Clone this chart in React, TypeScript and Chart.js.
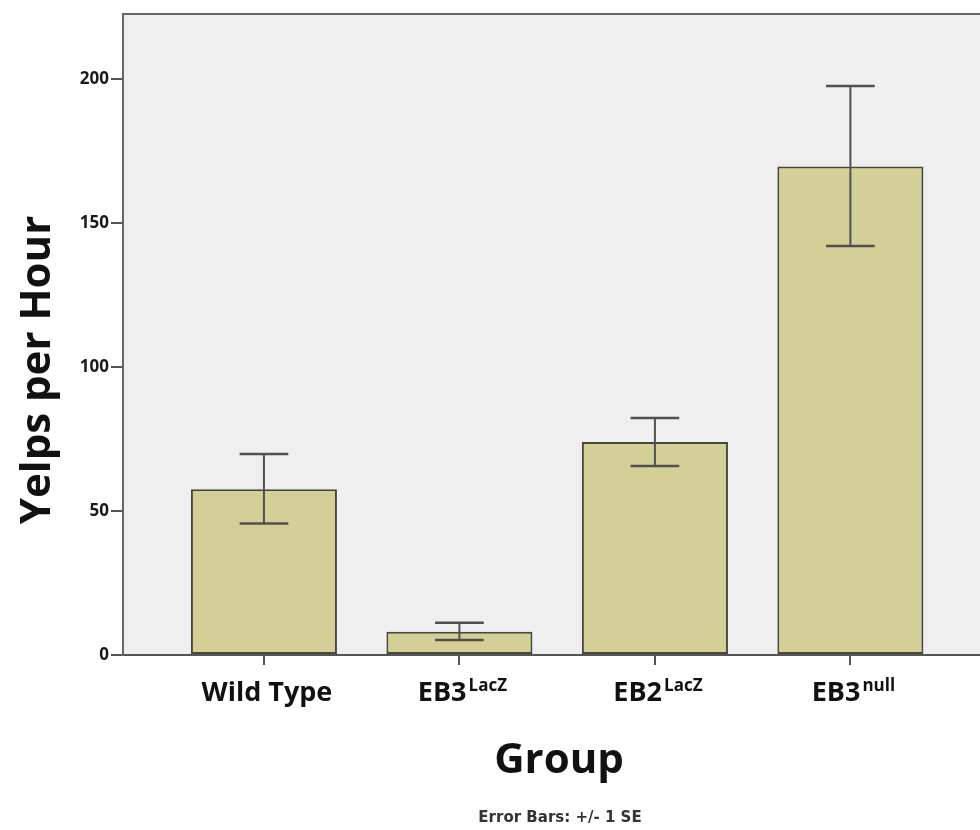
import React, { useEffect, useRef } from 'react';
import { Chart, registerables } from 'chart.js';

Chart.register(...registerables);

// ---- data ----
const groupNames = ['Wild Type', 'EB3', 'EB2', 'EB3'];
const groupSuperscripts = ['', 'LacZ', 'LacZ', 'null'];
const groupPositions = [1, 2, 3, 4];
const meanYelps = [57.6, 8.1, 74.0, 169.6];
const seLower = [45.7, 5.2, 65.6, 142.0];
const seUpper = [69.8, 11.2, 82.3, 197.6];
const yTicks = [0, 50, 100, 150, 200];
const yAxisTitle = 'Yelps per Hour';
const xAxisTitle = 'Group';
const footnote = 'Error Bars: +/- 1 SE';

const FONT = "'Open Sans', 'DejaVu Sans', sans-serif";

const decorPlugin = {
  id: 'decor',
  beforeDraw(chart: any) {
    const { ctx, chartArea } = chart;
    ctx.save();
    ctx.fillStyle = '#efefef';
    ctx.fillRect(chartArea.left, chartArea.top, chartArea.right - chartArea.left, chartArea.bottom - chartArea.top);
    ctx.restore();
  },
  afterDatasetsDraw(chart: any) {
    const { ctx } = chart;
    const meta = chart.getDatasetMeta(0);
    const yScale = chart.scales.y;
    ctx.save();
    ctx.strokeStyle = '#505050';
    ctx.lineCap = 'butt';
    meta.data.forEach((bar: any, i: number) => {
      const x = bar.x;
      const half = bar.width / 6;
      const yl = yScale.getPixelForValue(seLower[i]);
      const yu = yScale.getPixelForValue(seUpper[i]);
      ctx.lineWidth = 2;
      ctx.beginPath();
      ctx.moveTo(x, yl);
      ctx.lineTo(x, yu);
      ctx.stroke();
      ctx.lineWidth = 2.5;
      ctx.beginPath();
      ctx.moveTo(x - half, yu);
      ctx.lineTo(x + half, yu);
      ctx.moveTo(x - half, yl);
      ctx.lineTo(x + half, yl);
      ctx.stroke();
    });
    ctx.restore();
  },
  afterDraw(chart: any) {
    const { ctx, chartArea } = chart;
    const xScale = chart.scales.x;
    ctx.save();
    // top frame line
    ctx.strokeStyle = '#666666';
    ctx.lineWidth = 2;
    ctx.beginPath();
    ctx.moveTo(chartArea.left - 1, chartArea.top);
    ctx.lineTo(chartArea.right, chartArea.top);
    ctx.stroke();

    // category labels with superscripts
    ctx.fillStyle = '#111111';
    ctx.textBaseline = 'alphabetic';
    ctx.textAlign = 'left';
    const baseline = chartArea.bottom + 46;
    groupNames.forEach((name, i) => {
      const cx = xScale.getPixelForValue(groupPositions[i]);
      ctx.font = `bold 27px ${FONT}`;
      const wBase = ctx.measureText(name).width;
      const sup = groupSuperscripts[i];
      let wSup = 0;
      if (sup) {
        ctx.font = `bold 17px ${FONT}`;
        wSup = ctx.measureText(sup).width + 2;
      }
      const x0 = cx - (wBase + wSup) / 2 + 3;
      ctx.font = `bold 27px ${FONT}`;
      ctx.fillText(name, x0, baseline);
      if (sup) {
        ctx.font = `bold 17px ${FONT}`;
        ctx.fillText(sup, x0 + wBase + 2, baseline - 10);
      }
    });

    // x axis title
    ctx.textAlign = 'center';
    ctx.font = `bold 42px ${FONT}`;
    ctx.fillText(xAxisTitle, 559, 773);

    // y axis title
    ctx.save();
    ctx.translate(50, 370);
    ctx.rotate(-Math.PI / 2);
    ctx.font = `bold 42px ${FONT}`;
    ctx.fillText(yAxisTitle, 0, 0);
    ctx.restore();

    // footnote
    ctx.fillStyle = '#333333';
    ctx.font = "bold 15px 'DejaVu Sans', sans-serif";
    ctx.fillText(footnote, 560, 822);
    ctx.restore();
  },
};

export default function App() {
  const canvasRef = useRef<HTMLCanvasElement | null>(null);

  useEffect(() => {
    if (!canvasRef.current) return;
    const chart = new Chart(canvasRef.current, {
      type: 'bar',
      data: {
        datasets: [
          {
            data: groupPositions.map((x, i) => ({ x, y: meanYelps[i] })),
            backgroundColor: '#d3cf97',
            borderColor: '#48483a',
            borderWidth: 2,
            borderSkipped: false,
            categoryPercentage: 1,
            barPercentage: 0.747,
          },
        ],
      },
      options: {
        animation: false,
        responsive: false,
        devicePixelRatio: 1,
        layout: { padding: { left: 0, top: 14, right: 0, bottom: 0 } },
        plugins: {
          legend: { display: false },
          tooltip: { enabled: false },
          title: { display: false },
        },
        scales: {
          x: {
            type: 'linear',
            offset: false,
            min: 0.279,
            max: 4.663,
            afterBuildTicks: (scale: any) => {
              scale.ticks = groupPositions.map((v) => ({ value: v }));
            },
            afterFit: (scale: any) => {
              scale.height = 175;
            },
            ticks: { display: false },
            grid: {
              offset: false,
              drawOnChartArea: false,
              drawTicks: true,
              tickLength: 10,
              color: '#555555',
              lineWidth: 2,
            },
            border: { display: true, color: '#555555', width: 2 },
          },
          y: {
            type: 'linear',
            min: 0,
            max: 222.6,
            afterBuildTicks: (scale: any) => {
              scale.ticks = yTicks.map((v) => ({ value: v }));
            },
            afterFit: (scale: any) => {
              scale.width = 123;
            },
            ticks: {
              color: '#1a1a1a',
              padding: 2,
              font: { family: FONT, size: 17, weight: 'bold' },
            },
            grid: {
              drawOnChartArea: false,
              drawTicks: true,
              tickLength: 12,
              color: '#555555',
              lineWidth: 2,
            },
            border: { display: true, color: '#666666', width: 2 },
          },
        },
      },
      plugins: [decorPlugin],
    } as any);
    return () => chart.destroy();
  }, []);

  return (
    <div style={{ position: 'absolute', left: 0, top: 0, width: 980, height: 830, background: '#ffffff' }}>
      <canvas ref={canvasRef} width={980} height={830} style={{ display: 'block' }} />
    </div>
  );
}
